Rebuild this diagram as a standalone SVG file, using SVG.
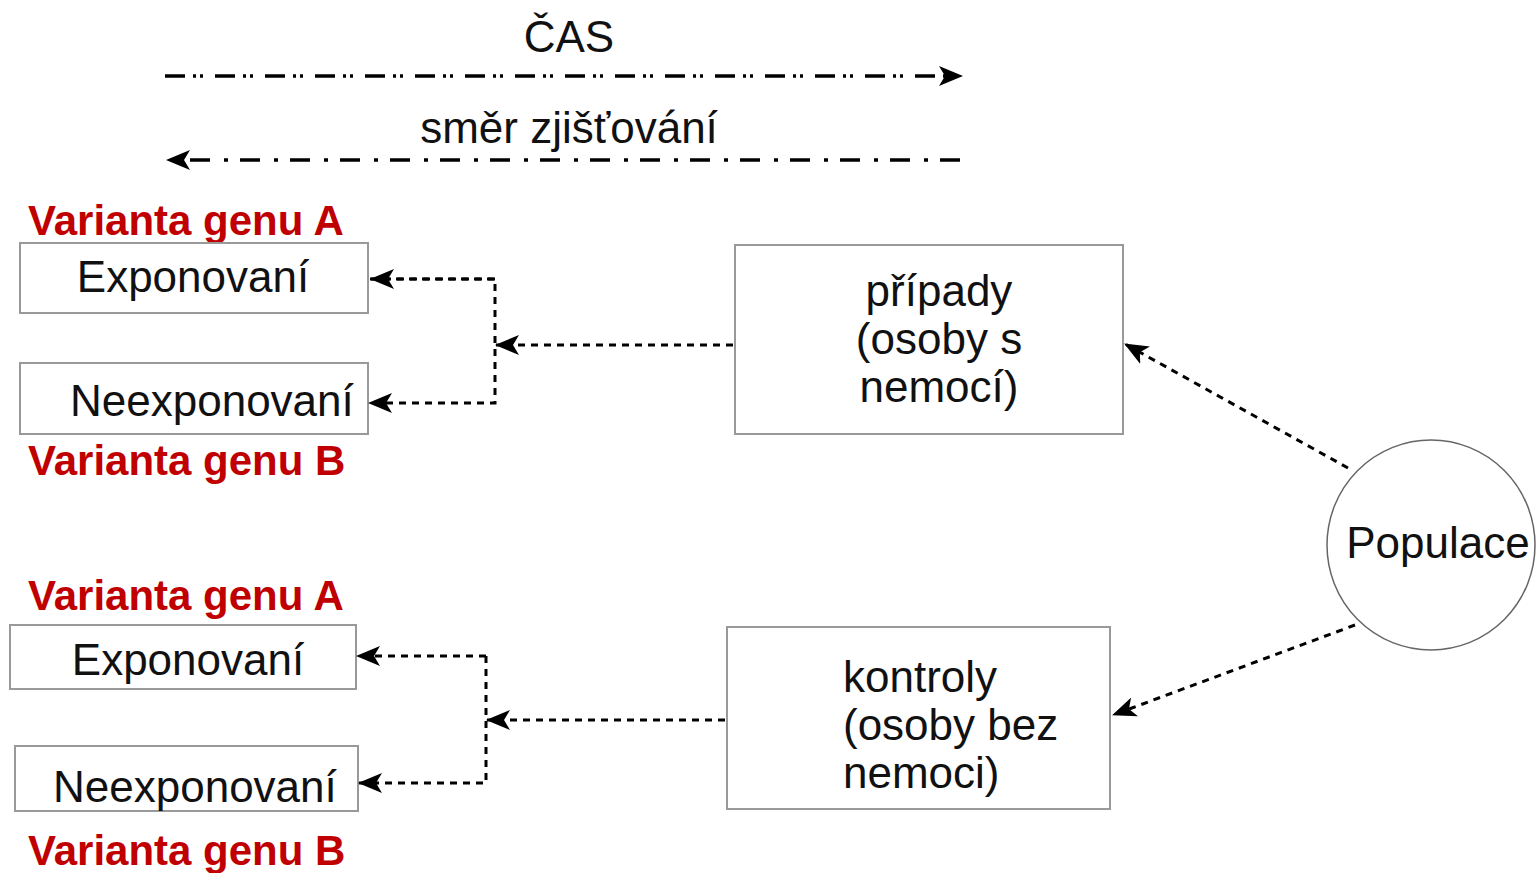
<svg xmlns="http://www.w3.org/2000/svg" width="1538" height="873" viewBox="0 0 1538 873">
<defs>
<marker id="ah" viewBox="0 0 24 20" refX="23" refY="10" markerWidth="24" markerHeight="20" markerUnits="userSpaceOnUse" orient="auto">
<path d="M0,0 L24,10 L0,20 L6,10 Z" fill="#000"/>
</marker>
<style>
.t{font-family:"Liberation Sans",Arial,sans-serif;font-size:44px;fill:#111}
.r{font-family:"Liberation Sans",Arial,sans-serif;font-size:42px;font-weight:bold;fill:#c00000}
.box{fill:#fff;stroke:#999;stroke-width:2}
.dot{fill:none;stroke:#000;stroke-width:3;stroke-dasharray:7 6}
</style>
</defs>
<rect width="1538" height="873" fill="#fff"/>
<g id="time">
<text class="t" x="569" y="52" text-anchor="middle" font-size="41">ČAS</text>
<line x1="165" y1="76" x2="962" y2="76" stroke="#000" stroke-width="3.5" stroke-dasharray="20 8 3 4 3 12" marker-end="url(#ah)"/>
<text class="t" x="569" y="143" text-anchor="middle">směr zjišťování</text>
<line x1="960" y1="160" x2="167" y2="160" stroke="#000" stroke-width="3.5" stroke-dasharray="20 12 4 14" marker-end="url(#ah)"/>
</g>
<g id="labels">
<text class="r" x="28" y="235">Varianta genu A</text>
<text class="r" x="28" y="475">Varianta genu B</text>
<text class="r" x="28" y="610">Varianta genu A</text>
<text class="r" x="28" y="865">Varianta genu B</text>
</g>
<g id="exp1"><rect class="box" x="20" y="243" width="348" height="70"/><text class="t" x="193" y="292" text-anchor="middle">Exponovaní</text></g>
<g id="neexp1"><rect class="box" x="20" y="363" width="348" height="71"/><text class="t" x="70" y="416">Neexponovaní</text></g>
<g id="pripady"><rect class="box" x="735" y="245" width="388" height="189"/>
<text class="t" x="939" y="306" text-anchor="middle">případy</text>
<text class="t" x="939" y="354" text-anchor="middle">(osoby s</text>
<text class="t" x="939" y="402" text-anchor="middle">nemocí)</text></g>
<g id="populace"><ellipse cx="1431" cy="545" rx="104" ry="105" fill="#fff" stroke="#666" stroke-width="1.5"/><text class="t" x="1438" y="558" text-anchor="middle">Populace</text></g>
<g id="kontroly"><rect class="box" x="727" y="627" width="383" height="182"/>
<text class="t" x="843" y="692">kontroly</text>
<text class="t" x="843" y="740">(osoby bez</text>
<text class="t" x="843" y="788">nemoci)</text></g>
<g id="exp2"><rect class="box" x="10" y="625" width="346" height="64"/><text class="t" x="188" y="675" text-anchor="middle">Exponovaní</text></g>
<g id="neexp2"><rect class="box" x="15" y="746" width="343" height="65"/><text class="t" x="53" y="802">Neexponovaní</text></g>
<g id="connectors">
<line class="dot" x1="733" y1="345" x2="496" y2="345" marker-end="url(#ah)"/>
<polyline class="dot" points="370,279 495,279 495,403 369,403" marker-end="url(#ah)"/>
<line class="dot" x1="495" y1="279" x2="371" y2="279" marker-end="url(#ah)"/>
<line class="dot" x1="1348" y1="468" x2="1125" y2="344" marker-end="url(#ah)"/>
<line class="dot" x1="1355" y1="625" x2="1113" y2="715" marker-end="url(#ah)"/>
<line class="dot" x1="725" y1="720" x2="487" y2="720" marker-end="url(#ah)"/>
<polyline class="dot" points="486,656 486,783 359,783" marker-end="url(#ah)"/>
<line class="dot" x1="486" y1="656" x2="357" y2="656" marker-end="url(#ah)"/>
</g>
</svg>
